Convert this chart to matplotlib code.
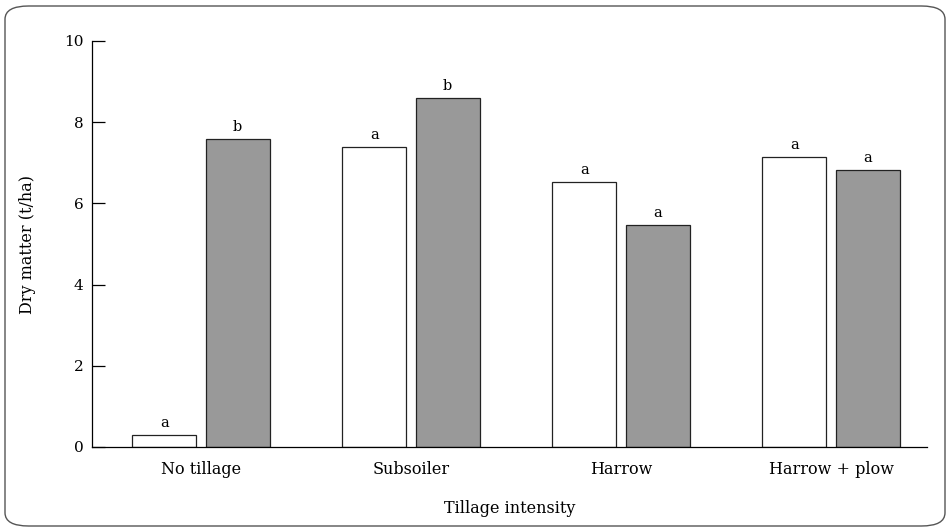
import matplotlib
matplotlib.use("Agg")
import matplotlib.pyplot as plt
from matplotlib.patches import FancyBboxPatch
import numpy as np

categories = ["No tillage", "Subsoiler", "Harrow", "Harrow + plow"]
white_vals = [0.3, 7.4, 6.52, 7.15]
gray_vals = [7.58, 8.6, 5.47, 6.83]
white_letters = ["a", "a", "a", "a"]
gray_letters = ["b", "b", "a", "a"]

plt.rcParams["font.family"] = "DejaVu Serif"
plt.rcParams["font.size"] = 10

fig = plt.figure(figsize=(9.47, 5.30), dpi=100)
ax = fig.add_axes([92 / 947, 83 / 530, (927 - 92) / 947, (447 - 41) / 530])

# rounded frame around the whole figure
frame = FancyBboxPatch((5 / 947, 4 / 530), 940 / 947, 520 / 530,
                       boxstyle="round,pad=0,rounding_size=0.025",
                       transform=fig.transFigure, fill=False,
                       edgecolor="#555555", linewidth=1.0)
fig.patches.append(frame)

x = np.arange(len(categories))
w = 0.305
off = 0.175
b1 = ax.bar(x - off, white_vals, w, color="white", edgecolor="#222222", linewidth=0.9)
b2 = ax.bar(x + off, gray_vals, w, color="#999999", edgecolor="#222222", linewidth=0.9)

for rect, lab in zip(b1, white_letters):
    ax.text(rect.get_x() + rect.get_width() / 2, rect.get_height() + 0.12, lab,
            ha="center", va="bottom", fontsize=10.5)
for rect, lab in zip(b2, gray_letters):
    ax.text(rect.get_x() + rect.get_width() / 2, rect.get_height() + 0.12, lab,
            ha="center", va="bottom", fontsize=10.5)

ax.set_xlim(-0.519, 3.457)
ax.set_ylim(0, 10)
ax.set_yticks([0, 2, 4, 6, 8, 10])
ax.set_xticks(x)
ax.set_xticklabels(categories)
ax.tick_params(axis="y", direction="in", length=9, width=0.9, pad=6, labelsize=11)
ax.tick_params(axis="x", length=0, pad=10, labelsize=11.5)

for s in ["top", "right"]:
    ax.spines[s].set_visible(False)
ax.spines["left"].set_linewidth(0.9)
ax.spines["bottom"].set_linewidth(0.9)

ax.set_xlabel("Tillage intensity", fontsize=11.5, labelpad=16)
ax.set_ylabel("Dry matter (t/ha)", fontsize=11.5, labelpad=20)

fig.savefig("out.png", dpi=100)
